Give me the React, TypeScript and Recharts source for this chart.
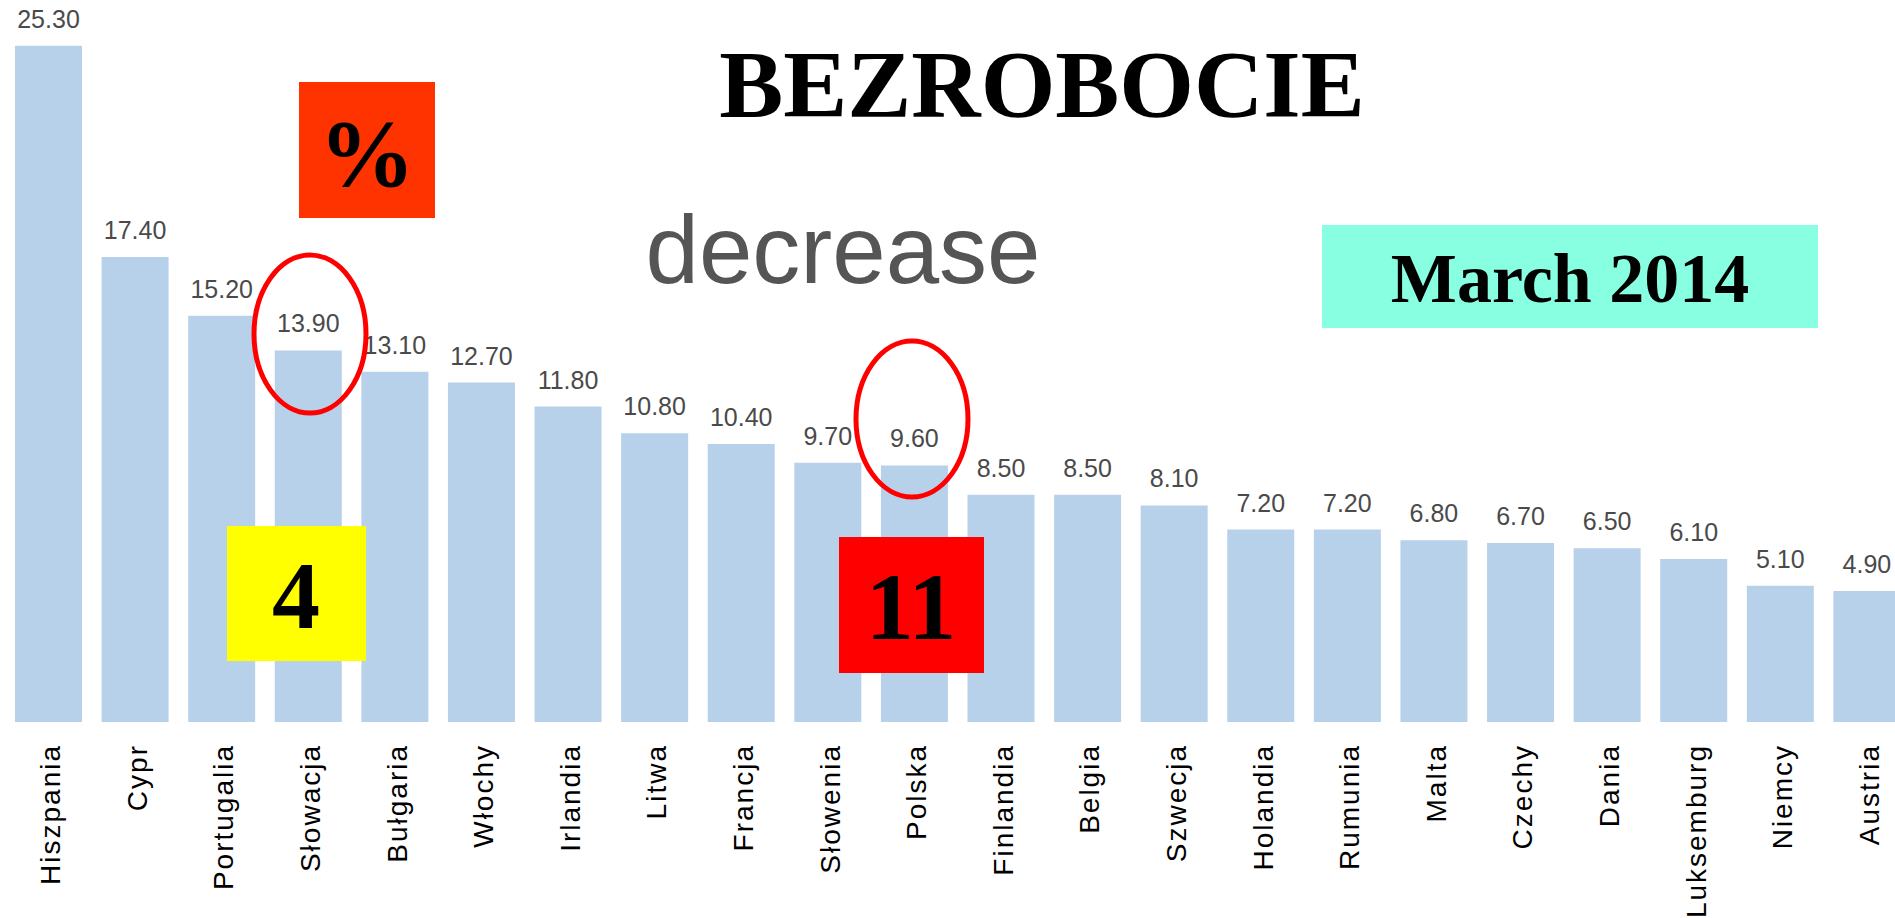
import { BarChart, Bar, XAxis, YAxis, LabelList } from 'recharts'

const COUNTRIES = [
  'Hiszpania', 'Cypr', 'Portugalia', 'Słowacja', 'Bułgaria', 'Włochy',
  'Irlandia', 'Litwa', 'Francja', 'Słowenia', 'Polska', 'Finlandia',
  'Belgia', 'Szwecja', 'Holandia', 'Rumunia', 'Malta', 'Czechy',
  'Dania', 'Luksemburg', 'Niemcy', 'Austria',
]

const RATES = [
  25.3, 17.4, 15.2, 13.9, 13.1, 12.7,
  11.8, 10.8, 10.4, 9.7, 9.6, 8.5,
  8.5, 8.1, 7.2, 7.2, 6.8, 6.7,
  6.5, 6.1, 5.1, 4.9,
]

const Y_DOMAIN = [0, 26.9]

const data = COUNTRIES.map((country, i) => ({ country, rate: RATES[i] }))

const SANS = '"Liberation Sans", Arial, sans-serif'
const SERIF = '"Liberation Serif", "Times New Roman", serif'

function CountryTick({ x, y, payload }: any) {
  return (
    <g transform={`translate(${x},${y})`}>
      <text
        transform="rotate(-90)"
        x={-22}
        y={12}
        textAnchor="end"
        fill="#000"
        fontSize={28}
        letterSpacing={2}
        fontFamily={SANS}
      >
        {payload.value}
      </text>
    </g>
  )
}

function Overlay() {
  return (
    <svg
      width={1895}
      height={918}
      style={{ position: 'absolute', left: 0, top: 0, pointerEvents: 'none' }}
    >
      <text x={1042} y={117} textAnchor="middle" fontFamily={SERIF} fontWeight="bold" fontSize={96} fill="#000">
        BEZROBOCIE
      </text>

      <rect x={299} y={82} width={136} height={136} fill="#FF3300" />
      <text x={367} y={186} textAnchor="middle" fontFamily={SERIF} fontWeight="bold" fontSize={96} fill="#000">%</text>

      <text x={843} y={283} textAnchor="middle" fontFamily={SANS} fontSize={96} fill="#555555">decrease</text>

      <rect x={1322} y={225} width={496} height={103} fill="#88FFE0" />
      <text x={1570} y={302} textAnchor="middle" fontFamily={SERIF} fontWeight="bold" fontSize={70} fill="#000">
        March 2014
      </text>

      <ellipse cx={310} cy={334} rx={56} ry={79} fill="none" stroke="#FF0000" strokeWidth={5} />
      <ellipse cx={912} cy={419} rx={56} ry={78} fill="none" stroke="#FF0000" strokeWidth={5} />

      <rect x={227} y={526} width={139} height={135} fill="#FFFF00" />
      <text x={296} y={628} textAnchor="middle" fontFamily={SERIF} fontWeight="bold" fontSize={96} fill="#000">4</text>

      <rect x={839} y={537} width={145} height={136} fill="#FF0000" />
      <text x={911} y={639} textAnchor="middle" fontFamily={SERIF} fontWeight="bold" fontSize={96} fill="#000">11</text>
    </svg>
  )
}

export default function App() {
  return (
    <div
      style={{
        position: 'absolute', left: 0, top: 0,
        width: 1895, height: 918, overflow: 'hidden', background: '#fff',
      }}
    >
      <BarChart
        width={1915}
        height={918}
        data={data}
        margin={{ top: 3, right: 5, bottom: 0, left: 5 }}
      >
        <XAxis
          dataKey="country"
          interval={0}
          height={196}
          axisLine={false}
          tickLine={false}
          tickSize={0}
          tickMargin={0}
          tick={<CountryTick />}
        />
        <YAxis hide domain={Y_DOMAIN} />
        <Bar dataKey="rate" fill="#B8D1EA" barSize={67} isAnimationActive={false}>
          <LabelList
            dataKey="rate"
            position="top"
            offset={18}
            formatter={(v: any) => Number(v).toFixed(2)}
            fill="#4a4a4a"
            fontSize={25}
            fontFamily={SANS}
          />
        </Bar>
      </BarChart>
      <Overlay />
    </div>
  )
}
